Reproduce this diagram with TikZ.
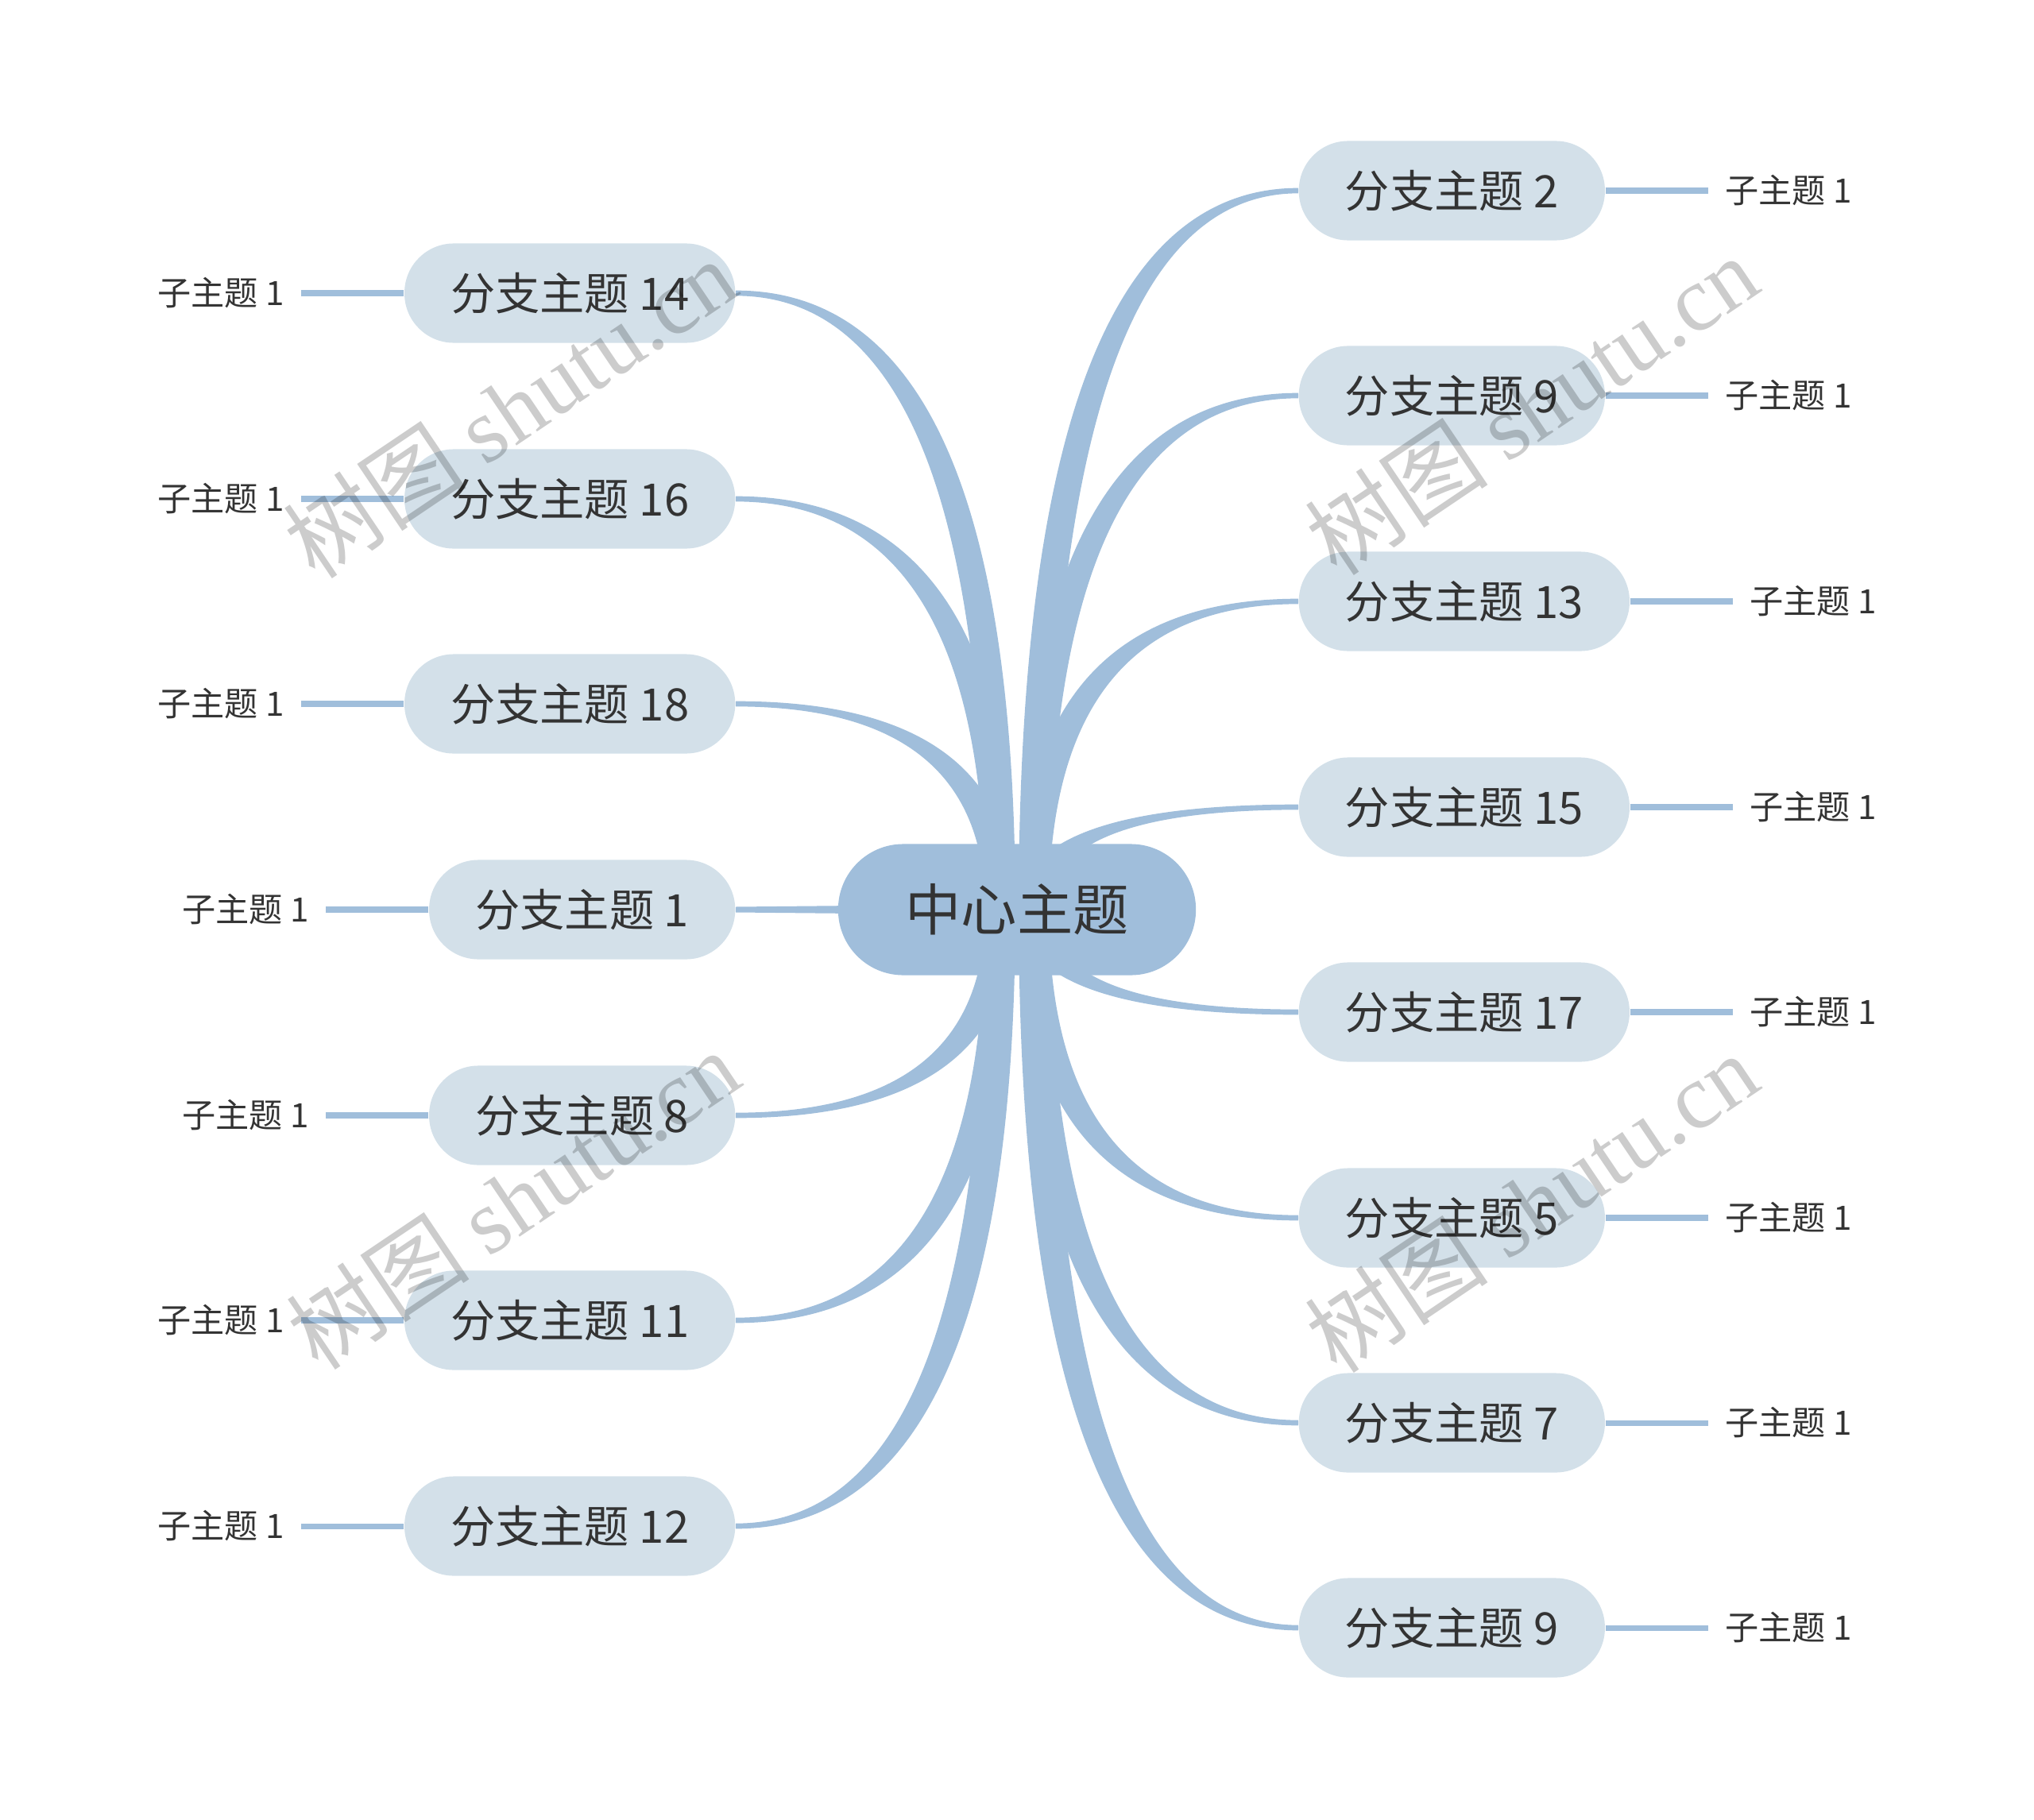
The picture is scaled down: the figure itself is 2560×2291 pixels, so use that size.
\documentclass[tikz,border=0pt]{standalone}
\usepackage{fontspec}
\setmainfont{Noto Sans CJK SC}
\newfontfamily\wmserif{Liberation Serif}
\usetikzlibrary{calc}
\definecolor{conncol}{HTML}{A0BEDB}
\definecolor{bfill}{HTML}{D3E0E9}
\definecolor{tcol}{HTML}{333333}
\pgfdeclarelayer{bg}
\pgfsetlayers{bg,main}
\def\hz{5.4pt}
\def\ho{0.95pt}
\def\so{6pt}
\newcommand\taper[1]{%
  \fill[conncol] let \p0=(c.center), \p2=(#1), \n1={sign(\x2-\x0)}, \n2={sign(\y2-\y0)},
    \p1=({\x0+\n1*\so},\y0),
    \p3=({\x1-\n1*\hz},\y1), \p4=(\x2,{\y2+\n2*\ho}),
    \p5=({\x1+\n1*\hz},\y1), \p6=(\x2,{\y2-\n2*\ho})
  in (\p3) .. controls (\x3,{\y3+2/3*(\y4-\y3)}) and ({\x4-2/3*(\x4-\x3)},\y4) .. (\p4)
     -- (\p6) .. controls ({\x6-2/3*(\x6-\x5)},\y6) and (\x5,{\y5+2/3*(\y6-\y5)}) .. (\p5) -- cycle;}
\tikzset{
  centralbox/.style={fill=conncol, rounded corners=0.82cm, minimum width=4.5cm, minimum height=1.65cm,
    inner sep=0, text=tcol, font=\fontsize{20}{24}\selectfont},
  branchbox/.style={fill=bfill, rounded corners=0.62cm, minimum height=1.25cm, inner sep=0,
    text=tcol, font=\fontsize{16}{19}\selectfont},
  bone/.style={branchbox, minimum width=3.85cm},
  btwo/.style={branchbox, minimum width=4.16cm},
  subtext/.style={text=tcol, inner xsep=0.21cm, inner ysep=0, font=\fontsize{12}{14}\selectfont},
  subline/.style={draw=conncol, line width=2pt},
  wmark/.style={rotate=34, opacity=0.2, text=black, inner sep=0, font=\fontsize{33}{40}\selectfont}
}
\begin{document}
\begin{tikzpicture}[x=0.01cm, y=-0.01cm]
\useasboundingbox (0,0) rectangle (2560,2291);
% center
\node[centralbox] (c) at (1280,1145) {中心主题};
% right branches
\node[bone, anchor=west] (r2) at (1634,240) {分支主题 2};
\node[bone, anchor=west] (r9a) at (1634,498) {分支主题 9};
\node[btwo, anchor=west] (r13) at (1634,757) {分支主题 13};
\node[btwo, anchor=west] (r15) at (1634,1016) {分支主题 15};
\node[btwo, anchor=west] (r17) at (1634,1274) {分支主题 17};
\node[bone, anchor=west] (r5) at (1634,1533) {分支主题 5};
\node[bone, anchor=west] (r7) at (1634,1791) {分支主题 7};
\node[bone, anchor=west] (r9b) at (1634,2049) {分支主题 9};
% left branches
\node[btwo, anchor=east] (l14) at (926,369) {分支主题 14};
\node[btwo, anchor=east] (l16) at (926,628) {分支主题 16};
\node[btwo, anchor=east] (l18) at (926,886) {分支主题 18};
\node[bone, anchor=east] (l1) at (926,1145) {分支主题 1};
\node[bone, anchor=east] (l8) at (926,1404) {分支主题 8};
\node[btwo, anchor=east] (l11) at (926,1662) {分支主题 11};
\node[btwo, anchor=east] (l12) at (926,1921) {分支主题 12};
% sub topics
\foreach \b in {r2,r9a,r13,r15,r17,r5,r7,r9b}{
  \node[subtext, anchor=west] (s\b) at ($(\b.east)+(129,0)$) {子主题 1};
}
\foreach \b in {l14,l16,l18,l1,l8,l11,l12}{
  \node[subtext, anchor=east] (s\b) at ($(\b.west)+(-129,0)$) {子主题 1};
}
\begin{pgfonlayer}{bg}
  \foreach \b in {r2,r9a,r13,r15,r17,r5,r7,r9b}{
    \taper{\b.west}
    \draw[subline] (\b.east) -- (s\b.west);
  }
  \foreach \b in {l14,l16,l18,l8,l11,l12}{
    \taper{\b.east}
  }
  \foreach \b in {l14,l16,l18,l1,l8,l11,l12}{
    \draw[subline] (\b.west) -- (s\b.east);
  }
  \fill[conncol] ($(c.center)+(0,-7)$) -- ($(l1.east)+(0,-3.5)$) -- ($(l1.east)+(0,3.5)$) -- ($(c.center)+(0,7)$) -- cycle;
\end{pgfonlayer}
% watermarks
\node[wmark] (wm1) at (641,514) {树图 {\wmserif shutu.cn}};
\node[wmark] (wm2) at (1927,510) {树图 {\wmserif shutu.cn}};
\node[wmark] (wm3) at (645,1510) {树图 {\wmserif shutu.cn}};
\node[wmark] (wm4) at (1927,1514) {树图 {\wmserif shutu.cn}};
\end{tikzpicture}
\end{document}
